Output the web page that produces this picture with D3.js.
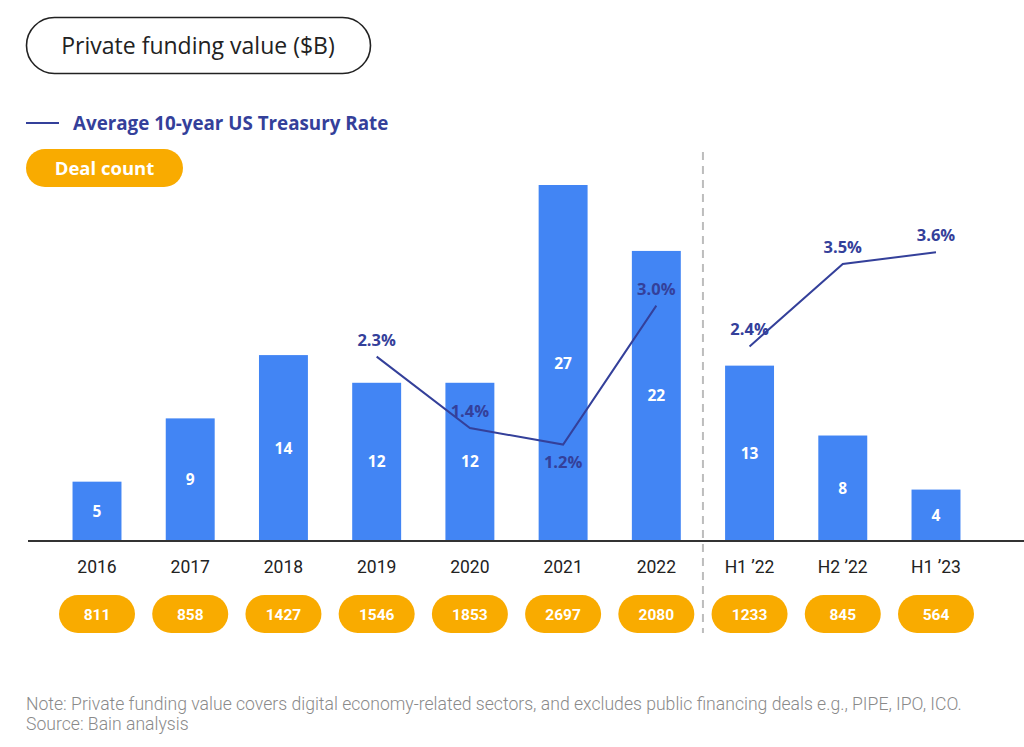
<!DOCTYPE html>
<html lang="en">
<head>
<meta charset="UTF-8">
<title>Private funding value</title>
<script src="https://d3js.org/d3.v7.min.js"></script>
<style>
  body { margin: 0; background: #fff; }
  svg { display: block; font-family: Roboto, "Noto Sans", sans-serif; }
  .wide { font-family: "Open Sans", "Noto Sans", sans-serif; }
</style>
</head>
<body>
<svg id="chart" width="1024" height="747"></svg>
<script>
// --- data ---
const categories = ["2016", "2017", "2018", "2019", "2020", "2021", "2022", "H1 \u201922", "H2 \u201922", "H1 \u201923"];
const fundingValue = [4.5, 9.3, 14.1, 12.0, 12.0, 27.0, 22.0, 13.3, 8.0, 3.9];
const dealCount = [811, 858, 1427, 1546, 1853, 2697, 2080, 1233, 845, 564];
// treasury rate, drawn as two separate segments (annual / half-year)
const rateAnnual = [
  { cat: "2019", v: 2.31 }, { cat: "2020", v: 1.40 }, { cat: "2021", v: 1.19 }, { cat: "2022", v: 2.96 }
];
const rateHalf = [
  { cat: "H1 \u201922", v: 2.44 }, { cat: "H2 \u201922", v: 3.49 }, { cat: "H1 \u201923", v: 3.64 }
];
const belowLabel = ["2021"]; // rate label placed under the point

const svg = d3.select("#chart");
const BLUE = "#4285f4", GOLD = "#f9ab00", NAVY = "#34409a";

const x = d3.scalePoint().domain(categories).range([97, 936]);
const barW = x.step() * 0.525;
const y = d3.scaleLinear().domain([0, 27]).range([541, 185]);
const yRate = d3.scaleLinear().domain([0, 4]).range([538, 224]);

// title pill
const title = svg.append("g");
title.append("rect")
  .attr("x", 26.5).attr("y", 17.5).attr("width", 344).attr("height", 56)
  .attr("rx", 28).attr("fill", "#fff").attr("stroke", "#222").attr("stroke-width", 1.6);
title.append("text").attr("class", "wide")
  .attr("x", 198).attr("y", 53.5).attr("text-anchor", "middle")
  .attr("font-size", 23).attr("fill", "#222")
  .text("Private funding value ($B)");

// legend
svg.append("line").attr("x1", 26).attr("x2", 59).attr("y1", 123).attr("y2", 123)
  .attr("stroke", NAVY).attr("stroke-width", 2);
svg.append("text").attr("class", "wide").attr("x", 73).attr("y", 129.5)
  .attr("font-size", 18.8).attr("font-weight", 700).attr("fill", NAVY)
  .text("Average 10-year US Treasury Rate");

svg.append("rect").attr("x", 26).attr("y", 149).attr("width", 157).attr("height", 38)
  .attr("rx", 19).attr("fill", GOLD);
svg.append("text").attr("class", "wide").attr("x", 104.5).attr("y", 175).attr("text-anchor", "middle")
  .attr("font-size", 18.5).attr("font-weight", 700).attr("fill", "#fff")
  .text("Deal count");

// divider between annual and half-year data
const divX = (x(categories[6]) + x(categories[7])) / 2;
svg.append("line").attr("x1", divX).attr("x2", divX).attr("y1", 152).attr("y2", 633)
  .attr("stroke", "#bdbdbd").attr("stroke-width", 2).attr("stroke-dasharray", "8,6");

// bars
const bars = svg.append("g");
bars.selectAll("rect").data(fundingValue).join("rect")
  .attr("x", (d, i) => x(categories[i]) - barW / 2)
  .attr("y", d => y(d))
  .attr("width", barW)
  .attr("height", d => y(0) - y(d))
  .attr("fill", BLUE);
bars.selectAll("text").data(fundingValue).join("text").attr("class", "wide")
  .attr("x", (d, i) => x(categories[i]))
  .attr("y", d => (y(d) + y(0)) / 2 + 5.5)
  .attr("text-anchor", "middle").attr("font-size", 15.5).attr("font-weight", 700)
  .attr("fill", "#fff")
  .text(d => Math.round(d));

// baseline
svg.append("line").attr("x1", 28).attr("x2", 1024).attr("y1", 541).attr("y2", 541)
  .attr("stroke", "#333").attr("stroke-width", 2);

// category labels
svg.append("g").selectAll("text").data(categories).join("text")
  .attr("x", d => x(d)).attr("y", 573)
  .attr("text-anchor", "middle").attr("font-size", 17.5).attr("fill", "#222")
  .text(d => d);

// deal count pills
const pills = svg.append("g").selectAll("g").data(dealCount).join("g")
  .attr("transform", (d, i) => `translate(${x(categories[i])},614)`);
pills.append("rect").attr("x", -38).attr("y", -19).attr("width", 76).attr("height", 38)
  .attr("rx", 19).attr("fill", GOLD);
pills.append("text").attr("y", 5.5).attr("text-anchor", "middle")
  .attr("font-size", 15.5).attr("font-weight", 700).attr("fill", "#fff")
  .text(d => d);

// treasury rate lines
const line = d3.line().x(d => x(d.cat)).y(d => yRate(d.v));
[rateAnnual, rateHalf].forEach(seg => {
  svg.append("path").datum(seg).attr("d", line)
    .attr("fill", "none").attr("stroke", NAVY).attr("stroke-width", 2);
  svg.append("g").selectAll("text").data(seg).join("text").attr("class", "wide")
    .attr("x", d => x(d.cat))
    .attr("y", d => belowLabel.includes(d.cat) ? yRate(d.v) + 23 : yRate(d.v) - 11)
    .attr("text-anchor", "middle").attr("font-size", 16.5).attr("font-weight", 700)
    .attr("fill", NAVY)
    .text(d => d.v.toFixed(1) + "%");
});

// footnote
const note = svg.append("g").attr("font-size", 17.6).attr("font-weight", 300).attr("fill", "#8a8a8a");
note.append("text").attr("x", 26).attr("y", 710)
  .text("Note: Private funding value covers digital economy-related sectors, and excludes public financing deals e.g., PIPE, IPO, ICO.");
note.append("text").attr("x", 26).attr("y", 730).text("Source: Bain analysis");
</script>
</body>
</html>
